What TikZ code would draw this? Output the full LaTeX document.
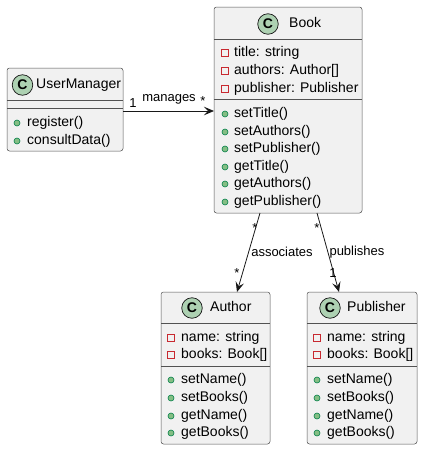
\documentclass[tikz,border=0pt]{standalone}
\usepackage{fontspec}
\setmainfont{Liberation Sans}
\usetikzlibrary{arrows.meta}
\definecolor{boxfill}{HTML}{F1F1F1}
\definecolor{boxline}{HTML}{181818}
\definecolor{iconfill}{HTML}{ADD1B2}
\definecolor{privline}{HTML}{C82930}
\definecolor{pubfill}{HTML}{84BE84}
\definecolor{publine}{HTML}{038048}

\tikzset{
  classbox/.style={draw=boxline!75, fill=boxfill, line width=0.5pt, rounded corners=2.5pt,
    inner sep=0pt, outer sep=0pt},
  sepline/.style={draw=boxline!75, line width=0.5pt},
  member/.style={anchor=west, inner sep=0pt, text height=10pt, text depth=3pt,
    font=\fontsize{14}{16}\selectfont},
  classname/.style={member},
  classicon/.style={circle, draw=boxline, fill=iconfill, line width=0.7pt,
    minimum size=20.5pt, inner sep=0pt, font=\fontsize{14}{16}\selectfont\bfseries},
  privmark/.style={draw=privline, line width=0.8pt, fill=none},
  pubmark/.style={draw=publine, fill=pubfill, line width=0.6pt},
  assoc/.style={draw=boxline, line width=0.8pt,
    -{Stealth[length=10pt, width=8.5pt, inset=4pt]}},
  rolelabel/.style={inner sep=0pt, font=\fontsize{13}{15}\selectfont},
}

\newcommand{\privat}[2]{\draw[privmark] (#1-3.5,#2-3.5) rectangle (#1+3.5,#2+3.5);}
\newcommand{\publ}[2]{\draw[pubmark] (#1,#2) circle (3pt);}

\begin{document}
\begin{tikzpicture}[x=1pt, y=-1pt]
  \useasboundingbox (0,0) rectangle (422,450);

  % ---------- UserManager ----------
  \node[classbox, minimum width=116pt, minimum height=83pt] (um) at (65,109.5) {};
  \node[classicon] (umicon) at (22.5,85) {C};
  \node[classname] (umname) at (36,85) {UserManager};
  \draw[sepline] (um.west |- 0,100) -- (um.east |- 0,100);
  \draw[sepline] (um.west |- 0,108) -- (um.east |- 0,108);
  \publ{17}{123}\node[member] (um1) at (27,123) {register()};
  \publ{17}{141}\node[member] (um2) at (27,141) {consultData()};

  % ---------- Book ----------
  \node[classbox, minimum width=148pt, minimum height=206pt] (book) at (288,110) {};
  \node[classicon] (bookicon) at (268,24) {C};
  \node[classname] (bookname) at (289,24) {Book};
  \draw[sepline] (book.west |- 0,39) -- (book.east |- 0,39);
  \privat{225}{53}\node[member] (b1) at (234,53) {title: string};
  \privat{225}{71}\node[member] (b2) at (234,71) {authors: Author[]};
  \privat{225}{89}\node[member] (b3) at (234,89) {publisher: Publisher};
  \draw[sepline] (book.west |- 0,99) -- (book.east |- 0,99);
  \publ{225}{114}\node[member] (b4) at (234,114) {setTitle()};
  \publ{225}{132}\node[member] (b5) at (234,132) {setAuthors()};
  \publ{225}{149}\node[member] (b6) at (234,149) {setPublisher()};
  \publ{225}{167}\node[member] (b7) at (234,167) {getTitle()};
  \publ{225}{184}\node[member] (b8) at (234,184) {getAuthors()};
  \publ{225}{202}\node[member] (b9) at (234,202) {getPublisher()};

  % ---------- Author ----------
  \node[classbox, minimum width=109pt, minimum height=152pt] (author) at (215.5,368) {};
  \node[classicon] (authicon) at (192,308) {C};
  \node[classname] (authname) at (210,308) {Author};
  \draw[sepline] (author.west |- 0,323) -- (author.east |- 0,323);
  \privat{171}{338}\node[member] (a1) at (181,338) {name: string};
  \privat{171}{355}\node[member] (a2) at (181,355) {books: Book[]};
  \draw[sepline] (author.west |- 0,366) -- (author.east |- 0,366);
  \publ{171}{380}\node[member] (a3) at (181,380) {setName()};
  \publ{171}{398}\node[member] (a4) at (181,398) {setBooks()};
  \publ{171}{416}\node[member] (a5) at (181,416) {getName()};
  \publ{171}{433}\node[member] (a6) at (181,433) {getBooks()};

  % ---------- Publisher ----------
  \node[classbox, minimum width=110pt, minimum height=152pt] (pub) at (362,368) {};
  \node[classicon] (pubicon) at (330,308) {C};
  \node[classname] (pubname) at (347,308) {Publisher};
  \draw[sepline] (pub.west |- 0,323) -- (pub.east |- 0,323);
  \privat{317}{338}\node[member] (p1) at (327,338) {name: string};
  \privat{317}{355}\node[member] (p2) at (327,355) {books: Book[]};
  \draw[sepline] (pub.west |- 0,366) -- (pub.east |- 0,366);
  \publ{317}{380}\node[member] (p3) at (327,380) {setName()};
  \publ{317}{398}\node[member] (p4) at (327,398) {setBooks()};
  \publ{317}{416}\node[member] (p5) at (327,416) {getName()};
  \publ{317}{433}\node[member] (p6) at (327,433) {getBooks()};

  % ---------- Associations ----------
  \coordinate (umout) at (um.east |- 0,111);
  \coordinate (bookin) at (book.west |- 0,111);
  \draw[assoc] (umout) -- (bookin);
  \node[rolelabel] (m1) at (133,103) {1};
  \node[rolelabel] (mlab) at (169,99) {manages};
  \node[rolelabel] (m2) at (203,101) {*};

  \draw[assoc] ([xshift=-28pt]book.south) -- ([xshift=21.5pt]author.north);
  \node[rolelabel] (s1) at (255,228) {*};
  \node[rolelabel] (slab) at (282,252) {associates};
  \node[rolelabel] (s2) at (237,273) {*};

  \draw[assoc] ([xshift=29pt]book.south) -- ([xshift=-23pt]pub.north);
  \node[rolelabel] (q1) at (317,228) {*};
  \node[rolelabel] (qlab) at (357,252) {publishes};
  \node[rolelabel] (q2) at (333,273) {1};
\end{tikzpicture}
\end{document}
